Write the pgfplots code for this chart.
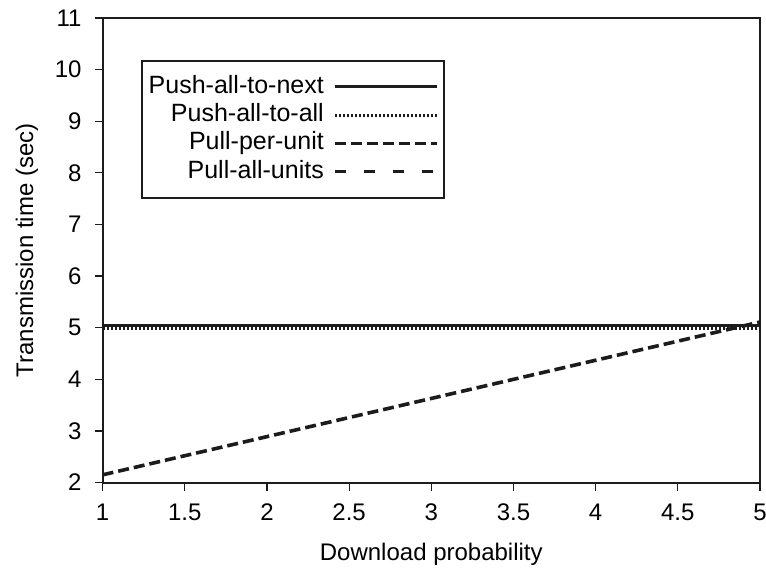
\documentclass[border=0pt]{standalone}
\usepackage{fontspec}
\setmainfont{Liberation Sans}
\usepackage{pgfplots}
\pgfplotsset{compat=1.18}
\definecolor{ink}{HTML}{1c1c1c}
\begin{document}
\begin{tikzpicture}
\begin{axis}[
  scale only axis,
  width=328.7pt, height=232.3pt,
  xmin=1, xmax=5, ymin=2, ymax=11,
  xtick={1,1.5,...,5}, ytick={2,3,...,11},
  xticklabels={1,1.5,2,2.5,3,3.5,4,4.5,5},
  xtick pos=bottom, ytick pos=left,
  /pgf/number format/assume math mode=true,
  axis line style={ink, line width=1pt},
  tick style={ink, line width=0.6pt},
  tick align=outside, major tick length=4pt,
  font=\fontsize{12}{14}\selectfont,
  tick label style={font=\fontsize{12}{14}\selectfont},
  xticklabel style={yshift=-3pt},
  yticklabel style={xshift=-3pt},
  xlabel={Download probability},
  ylabel={Transmission time (sec)},
  xlabel style={font=\fontsize{12}{14}\selectfont, yshift=-4.5pt},
  ylabel style={font=\fontsize{12}{14}\selectfont, yshift=1.5pt},
  legend plot pos=right,
  legend cell align=right,
  legend image code/.code={\draw[#1] (0pt,0pt) -- (51pt,0pt);},
  legend style={at={(0.058,0.91)}, anchor=north west, draw=ink, line width=1pt,
    font=\fontsize{12.5}{14}\selectfont,
    nodes={inner sep=0.5pt, text height=9pt, text depth=2.5pt},
    row sep=1.6pt, column sep=4pt, inner xsep=3pt, inner ysep=6.8pt},
]
\addplot[ink, line width=1.5pt] coordinates {(1,5.05) (5,5.05)};
\addlegendentry{Push-all-to-next}
\addplot[ink, line width=1.5pt, dash pattern=on 1pt off 1pt] coordinates {(1,4.99) (5,4.99)};
\addlegendentry{Push-all-to-all}
\addplot[ink, line width=1.8pt, dash pattern=on 5.5pt off 2.5pt] coordinates {(1,2.15) (5,5.11)};
\addlegendentry{Pull-per-unit}
\addlegendimage{ink, line width=1.8pt, dash pattern=on 5.5pt off 9pt}
\addlegendentry{Pull-all-units}
\coordinate (bl) at (rel axis cs:0,0);
\coordinate (tr) at (rel axis cs:1,1);
\end{axis}
\pgfresetboundingbox
\path[use as bounding box] ([xshift=-51.3pt,yshift=-43pt]bl) rectangle ([xshift=3pt,yshift=9pt]tr);
\end{tikzpicture}
\end{document}
